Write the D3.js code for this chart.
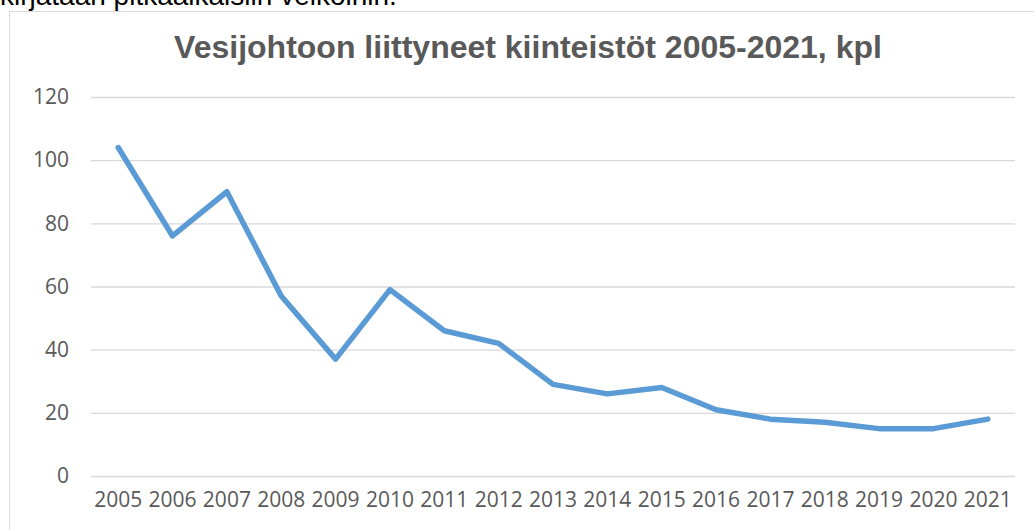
<!DOCTYPE html>
<html>
<head>
<meta charset="utf-8">
<script src="https://cdn.jsdelivr.net/npm/d3@7"></script>
<style>
  html, body { margin: 0; padding: 0; background: #fff; }
  svg { display: block; }
</style>
</head>
<body>
<svg id="chart" width="1034" height="530"></svg>
<script>
// Connected properties per year
const years = ["2005","2006","2007","2008","2009","2010","2011","2012","2013","2014","2015","2016","2017","2018","2019","2020","2021"];
const connections = [104, 76, 90, 57, 37, 59, 46, 42, 29, 26, 28, 21, 18, 17, 15, 15, 18];
const yTicks = [0, 20, 40, 60, 80, 100, 120];
const chartTitle = "Vesijohtoon liittyneet kiinteistöt 2005-2021, kpl";
const precedingText = "kirjataan pitkäaikaisiin velkoihin.";

const svg = d3.select("#chart");
const plot = { left: 91, right: 1015, top: 97, bottom: 476 };

// Tail end of the paragraph above the chart
svg.append("text")
  .attr("x", 0).attr("y", 5)
  .attr("font-family", "'Liberation Sans', Arial, sans-serif")
  .attr("font-size", 28)
  .attr("fill", "#000")
  .text(precedingText);

// Chart frame
svg.append("rect")
  .attr("x", 9.5).attr("y", 11.5)
  .attr("width", 1040).attr("height", 540)
  .attr("fill", "#fff")
  .attr("stroke", "#d9d9d9")
  .attr("stroke-width", 1);

const x = d3.scaleBand().domain(years).range([plot.left, plot.right]);
const y = d3.scaleLinear().domain([0, 120]).range([plot.bottom, plot.top]);

// Horizontal gridlines and value labels
const yAxis = d3.axisLeft(y).tickValues(yTicks)
  .tickSize(-(plot.right - plot.left)).tickPadding(22);
const gy = svg.append("g").attr("transform", `translate(${plot.left},0)`).call(yAxis);
gy.select(".domain").remove();
gy.selectAll(".tick line").attr("stroke", "#d9d9d9").attr("stroke-width", 1.3);
gy.selectAll(".tick text")
  .attr("font-family", "'Open Sans', 'Noto Sans', sans-serif")
  .attr("font-size", 21)
  .attr("fill", "#595959");

// Year labels
const xAxis = d3.axisBottom(x).tickSize(0).tickPadding(16);
const gx = svg.append("g").attr("transform", `translate(0,${plot.bottom})`).call(xAxis);
gx.select(".domain").remove();
gx.selectAll(".tick text")
  .attr("font-family", "'Open Sans', 'Noto Sans', sans-serif")
  .attr("font-size", 21)
  .attr("fill", "#595959");

// Series line
const line = d3.line()
  .x((d, i) => x(years[i]) + x.bandwidth() / 2)
  .y(d => y(d));
svg.append("path")
  .datum(connections)
  .attr("d", line)
  .attr("fill", "none")
  .attr("stroke", "#5b9bd5")
  .attr("stroke-width", 5.5)
  .attr("stroke-linejoin", "round")
  .attr("stroke-linecap", "round");

// Title
svg.append("text")
  .attr("x", 528).attr("y", 58)
  .attr("text-anchor", "middle")
  .attr("font-family", "'Liberation Sans', Arial, sans-serif")
  .attr("font-weight", "bold")
  .attr("font-size", 32)
  .attr("fill", "#595959")
  .text(chartTitle);
</script>
</body>
</html>
